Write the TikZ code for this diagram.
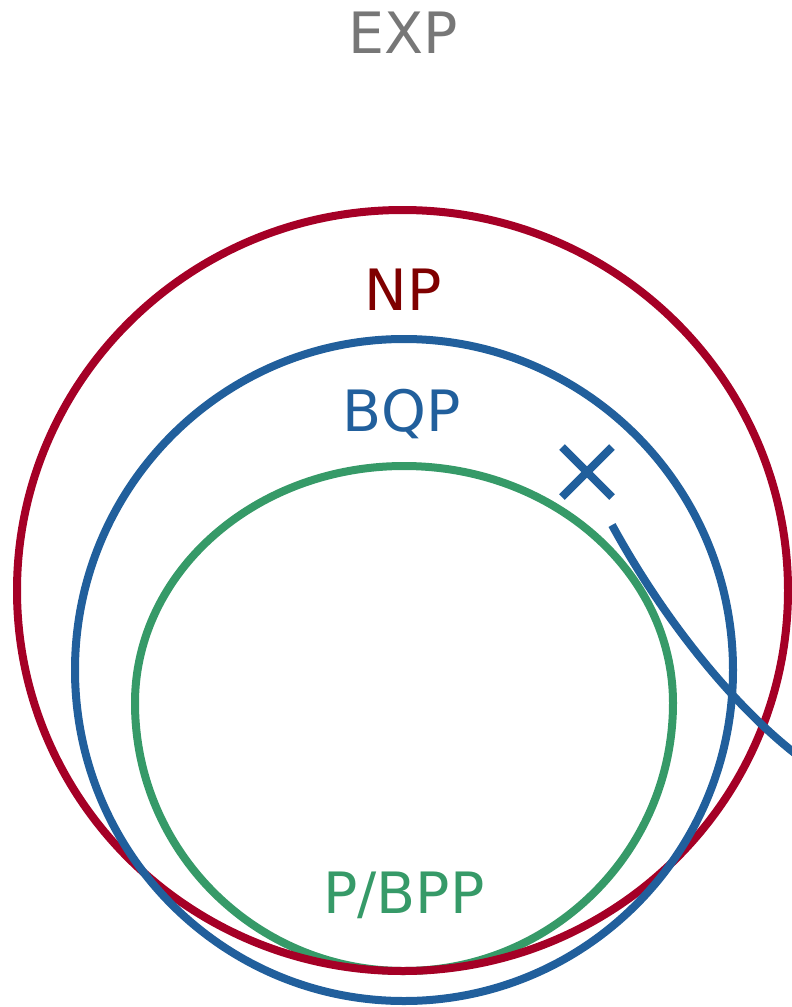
\documentclass[tikz,border=0pt]{standalone}
\usepackage{fontspec}
\setmainfont{DejaVu Sans}
\usetikzlibrary{shapes.geometric,shapes.misc}
\definecolor{npred}{HTML}{A50026}
\definecolor{nptext}{HTML}{7F0000}
\definecolor{bqpblue}{HTML}{215F9C}
\definecolor{bppgreen}{HTML}{369A68}
\definecolor{expgray}{HTML}{777777}
\begin{document}
\begin{tikzpicture}[x=1pt,y=-1pt,
  classring/.style={ellipse, draw, line width=8pt, inner sep=0pt, outer sep=0pt},
  classname/.style={anchor=base, inner sep=0pt, font=\fontsize{57}{60}\selectfont}]
\useasboundingbox (0,0) rectangle (792,1007);
\clip (0,0) rectangle (792,1007);

% P/BPP boundary: flatter upper half, deeper lower half
\coordinate (bppcentre) at (404,703);
\draw[bppgreen, line width=8pt] (bppcentre) ++(-269,0)
  arc[start angle=180, end angle=360, x radius=269, y radius=237]
  arc[start angle=0, end angle=180, x radius=269, y radius=268] -- cycle;

% NP and BQP boundaries
\node[classring, draw=npred, minimum width=771pt, minimum height=761pt] (np) at (402.5,590.5) {};
\node[classring, draw=bqpblue, minimum width=658pt, minimum height=662pt] (bqp) at (404,670) {};

% crossed-out mark and the detached boundary stroke
\node[cross out, draw=bqpblue, line width=8pt, minimum size=42pt, inner sep=0pt] (mark) at (587,472) {};
\coordinate (tailstart) at (612,525);
\coordinate (tailend) at (805,761);
\draw[bqpblue, line width=8pt] (tailstart) .. controls (670,631) and (744.1,716.6) .. (tailend);

% class names
\node[classname, text=expgray] (exp) at (403,53) {EXP};
\node[classname, text=nptext] (nplabel) at (403,310) {NP};
\node[classname, text=bqpblue] (bqplabel) at (402,431.5) {BQP};
\node[classname, text=bppgreen] (bpplabel) at (404,913) {P/BPP};
\end{tikzpicture}
\end{document}
